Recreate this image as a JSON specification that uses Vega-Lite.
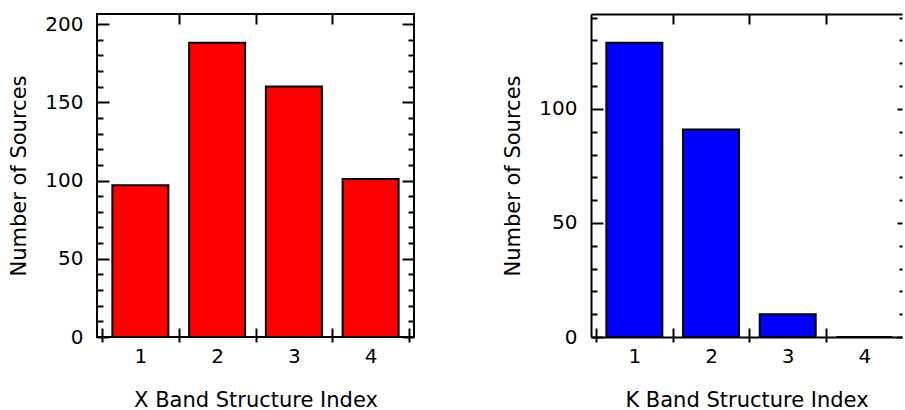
{
  "$schema": "https://vega.github.io/schema/vega-lite/v6.json",
  "padding": {"left": 7, "top": 12, "right": 0, "bottom": 0},
  "background": "white",
  "spacing": 86,
  "config": {
    "axis": {
      "labelFont": "DejaVu Sans", "labelFontSize": 20, "labelColor": "black",
      "titleFont": "DejaVu Sans", "titleFontSize": 21, "titleFontWeight": "normal", "titleColor": "black",
      "tickColor": "black", "tickWidth": 2, "domainColor": "black", "domainWidth": 2, "grid": false
    }
  },
  "hconcat": [
    {
      "width": 317, "height": 323,
      "view": {"stroke": "black", "strokeWidth": 2},
      "data": {"values": [
        {"index": 1, "count": 97}, {"index": 2, "count": 188}, {"index": 3, "count": 160}, {"index": 4, "count": 101}
      ]},
      "layer": [
        {
          "mark": {"type": "bar", "size": 56, "fill": "#ff0000", "stroke": "black", "strokeWidth": 2},
          "encoding": {
            "x": {"field": "index", "type": "quantitative", "scale": {"domain": [0.5, 4.5], "nice": false, "zero": false},
              "axis": {"orient": "bottom", "values": [1, 2, 3, 4], "ticks": false, "domain": false, "labelPadding": 9, "titlePadding": 23, "title": "X Band Structure Index"}},
            "y": {"field": "count", "type": "quantitative", "scale": {"domain": [0, 206.4], "nice": false},
              "axis": {"orient": "left", "values": [0, 50, 100, 150, 200], "ticks": false, "domain": false, "labelPadding": 14, "titlePadding": 15, "title": "Number of Sources"}}
          }
        },
        {
          "mark": {"type": "bar", "size": 56, "opacity": 0},
          "encoding": {
            "x": {"field": "index", "type": "quantitative",
              "axis": {"orient": "bottom", "values": [0.5, 1.5, 2.5, 3.5, 4.5], "labels": false, "domain": false, "offset": -9, "tickSize": 14, "title": null}},
            "y": {"field": "count", "type": "quantitative",
              "axis": {"orient": "left", "values": [0, 50, 100, 150, 200], "labels": false, "domain": false, "tickSize": -12, "title": null}}
          }
        },
        {
          "mark": {"type": "bar", "size": 56, "opacity": 0},
          "encoding": {
            "x": {"field": "index", "type": "quantitative",
              "axis": {"orient": "top", "values": [1.5, 2.5, 3.5], "labels": false, "domain": false, "tickSize": -10, "title": null}},
            "y": {"field": "count", "type": "quantitative",
              "axis": {"orient": "left", "values": [10, 20, 30, 40, 60, 70, 80, 90, 110, 120, 130, 140, 160, 170, 180, 190], "labels": false, "domain": false, "tickSize": -6, "title": null}}
          }
        },
        {
          "mark": {"type": "bar", "size": 56, "opacity": 0},
          "encoding": {
            "x": {"field": "index", "type": "quantitative", "axis": null},
            "y": {"field": "count", "type": "quantitative",
              "axis": {"orient": "right", "values": [0, 50, 100, 150, 200], "labels": false, "domain": false, "tickSize": -12, "title": null}}
          }
        },
        {
          "mark": {"type": "bar", "size": 56, "opacity": 0},
          "encoding": {
            "x": {"field": "index", "type": "quantitative", "axis": null},
            "y": {"field": "count", "type": "quantitative",
              "axis": {"orient": "right", "values": [10, 20, 30, 40, 60, 70, 80, 90, 110, 120, 130, 140, 160, 170, 180, 190], "labels": false, "domain": false, "tickSize": -6, "title": null}}
          }
        }
      ],
      "resolve": {"axis": {"x": "independent", "y": "independent"}}
    },
    {
      "width": 311, "height": 323,
      "view": {"stroke": null},
      "data": {"values": [
        {"index": 1, "count": 129}, {"index": 2, "count": 91}, {"index": 3, "count": 10}, {"index": 4, "count": 0}
      ]},
      "layer": [
        {
          "mark": {"type": "bar", "size": 56, "fill": "#0000ff", "stroke": "black", "strokeWidth": 2},
          "encoding": {
            "x": {"field": "index", "type": "quantitative", "scale": {"domain": [0.5, 4.425], "nice": false, "zero": false},
              "axis": {"orient": "bottom", "values": [1, 2, 3, 4], "ticks": false, "domain": true, "labelPadding": 9, "titlePadding": 23, "title": "K Band Structure Index"}},
            "y": {"field": "count", "type": "quantitative", "scale": {"domain": [0, 141.6], "nice": false},
              "axis": {"orient": "left", "values": [0, 50, 100], "ticks": false, "domain": true, "labelPadding": 14, "titlePadding": 15, "title": "Number of Sources"}}
          }
        },
        {
          "mark": {"type": "bar", "size": 56, "opacity": 0},
          "encoding": {
            "x": {"field": "index", "type": "quantitative",
              "axis": {"orient": "bottom", "values": [0.5, 1.5, 2.5, 3.5], "labels": false, "domain": false, "offset": -9, "tickSize": 14, "title": null}},
            "y": {"field": "count", "type": "quantitative",
              "axis": {"orient": "left", "values": [0, 50, 100], "labels": false, "domain": false, "tickSize": -12, "title": null}}
          }
        },
        {
          "mark": {"type": "bar", "size": 56, "opacity": 0},
          "encoding": {
            "x": {"field": "index", "type": "quantitative",
              "axis": {"orient": "top", "values": [1.5, 2.5, 3.5], "labels": false, "domain": true, "tickSize": -10, "title": null}},
            "y": {"field": "count", "type": "quantitative",
              "axis": {"orient": "left", "values": [10, 20, 30, 40, 60, 70, 80, 90, 110, 120, 130, 140], "labels": false, "domain": false, "tickSize": -6, "title": null}}
          }
        },
        {
          "mark": {"type": "bar", "size": 56, "opacity": 0},
          "encoding": {
            "x": {"field": "index", "type": "quantitative", "axis": null},
            "y": {"field": "count", "type": "quantitative",
              "axis": {"orient": "right", "values": [0, 50, 100], "labels": false, "domain": false, "tickSize": -5, "title": null}}
          }
        },
        {
          "mark": {"type": "bar", "size": 56, "opacity": 0},
          "encoding": {
            "x": {"field": "index", "type": "quantitative", "axis": null},
            "y": {"field": "count", "type": "quantitative",
              "axis": {"orient": "right", "values": [10, 20, 30, 40, 60, 70, 80, 90, 110, 120, 130, 140], "labels": false, "domain": false, "tickSize": -3, "title": null}}
          }
        }
      ],
      "resolve": {"axis": {"x": "independent", "y": "independent"}}
    }
  ]
}
